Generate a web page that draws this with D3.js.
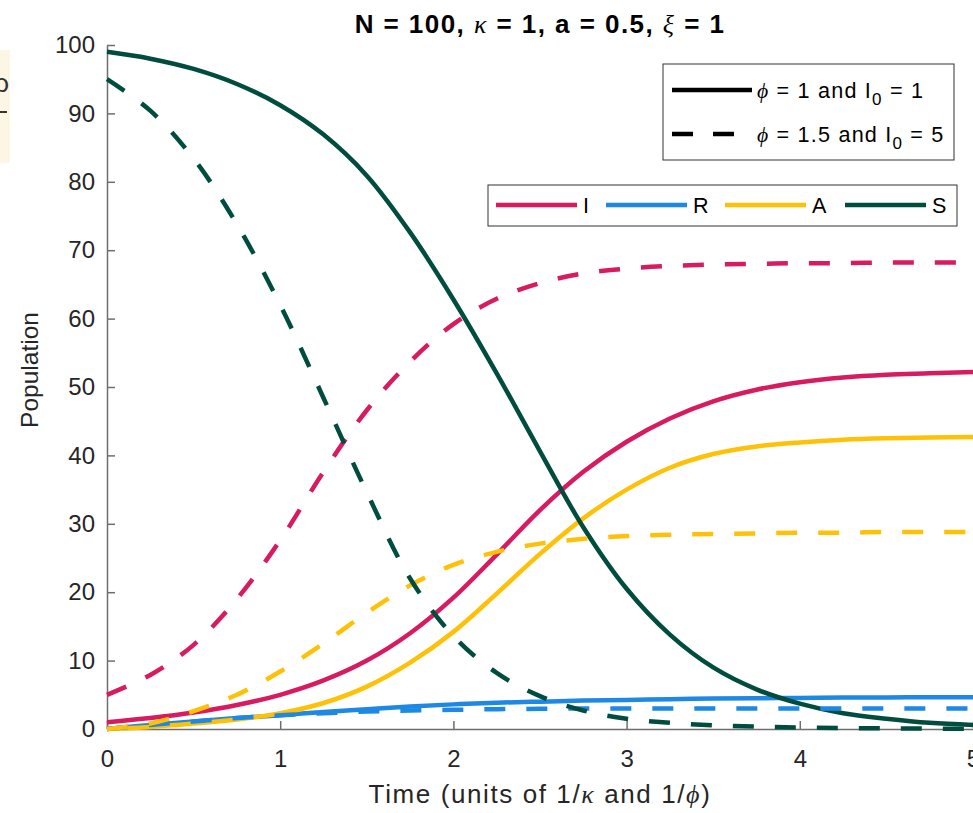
<!DOCTYPE html>
<html>
<head>
<meta charset="utf-8">
<script src="https://cdn.jsdelivr.net/npm/d3@7"></script>
<style>
body { margin: 0; background: #fff; }
svg { display: block; font-family: "Liberation Sans", Arial, sans-serif; }
</style>
</head>
<body>
<svg id="chart"></svg>
<script>
// time samples
var times = [0, 0.25, 0.5, 0.75, 1, 1.25, 1.5, 1.75, 2, 2.25, 2.5, 2.75, 3, 3.25, 3.5, 3.75, 4, 4.25, 4.5, 4.75, 5];

// phi = 1, I0 = 1 (solid)
var iSolid = [1.0, 1.6, 2.4, 3.5, 5.0, 7.1, 10.0, 14.0, 19.2, 25.5, 32.0, 37.6, 42.0, 45.4, 47.9, 49.6, 50.7, 51.4, 51.8, 52.0, 52.2];
var rSolid = [0, 0.6, 1.1, 1.6, 2.0, 2.5, 2.9, 3.3, 3.6, 3.85, 4.0, 4.15, 4.25, 4.35, 4.45, 4.5, 4.55, 4.6, 4.6, 4.65, 4.65];
var aSolid = [0, 0.3, 0.8, 1.4, 2.3, 3.8, 6.2, 9.7, 14.2, 19.8, 25.6, 30.8, 35.0, 38.2, 40.2, 41.3, 41.9, 42.3, 42.5, 42.6, 42.7];
var sSolid = [99.0, 98.0, 96.5, 94.3, 91.2, 86.9, 80.9, 72.6, 62.8, 52.0, 40.6, 29.5, 20.5, 13.8, 9.0, 5.8, 3.7, 2.3, 1.5, 0.9, 0.6];

// phi = 1.5, I0 = 5 (dashed)
var iDash = [5.0, 7.9, 12.3, 19.0, 27.6, 37.6, 46.6, 53.7, 59.2, 62.9, 65.2, 66.6, 67.3, 67.7, 67.9, 68.0, 68.1, 68.1, 68.2, 68.2, 68.2];
var rDash = [0, 0.6, 1.1, 1.6, 2.0, 2.3, 2.55, 2.7, 2.8, 2.9, 2.95, 3.0, 3.0, 3.0, 3.0, 3.0, 3.0, 3.0, 3.0, 3.0, 3.0];
var aDash = [0, 0.8, 2.6, 5.0, 8.4, 12.5, 17.0, 21.0, 24.0, 25.9, 27.1, 27.8, 28.2, 28.4, 28.5, 28.6, 28.7, 28.7, 28.8, 28.8, 28.8];
var sDash = [95.0, 90.4, 83.4, 73.8, 62.0, 48.4, 34.6, 22.0, 13.6, 8.2, 4.8, 2.7, 1.5, 0.9, 0.55, 0.35, 0.22, 0.14, 0.09, 0.06, 0.04];

var xTicks = [0, 1, 2, 3, 4, 5];
var yTicks = [0, 10, 20, 30, 40, 50, 60, 70, 80, 90, 100];

var compartments = ["I", "R", "A", "S"];
var colors = {I: "#D81B60", R: "#1E88E5", A: "#FFC107", S: "#004D40"};

var margin = {top: 45, right: 0, bottom: 84, left: 107},
    width = 973 - margin.left - margin.right,
    height = 813 - margin.top - margin.bottom;

var svg = d3.select("#chart")
    .attr("width", 973)
    .attr("height", 813);

// odd leftover box on the left edge of the picture
svg.append("rect")
    .attr("x", 0).attr("y", 50).attr("width", 10).attr("height", 113)
    .attr("fill", "#fdf6e4");
svg.append("text")
    .attr("x", 9).attr("y", 92)
    .attr("text-anchor", "end")
    .attr("font-size", 26)
    .attr("fill", "#333")
    .text("ρ");
svg.append("line")
    .attr("x1", 0).attr("x2", 7).attr("y1", 112).attr("y2", 112)
    .attr("stroke", "#333").attr("stroke-width", 2);

var g = svg.append("g")
    .attr("transform", "translate(" + margin.left + "," + margin.top + ")");

var x = d3.scaleLinear().domain([0, 5]).range([0, width]);
var y = d3.scaleLinear().domain([0, 100]).range([height, 0]);

// axes, MATLAB style ticks pointing in
var xAxis = g.append("g")
    .attr("transform", "translate(0," + height + ")")
    .call(d3.axisBottom(x).tickValues(xTicks).tickFormat(d3.format("d"))
        .tickSizeInner(-8).tickSizeOuter(0).tickPadding(21));

var yAxis = g.append("g")
    .call(d3.axisLeft(y).tickValues(yTicks).tickFormat(d3.format("d"))
        .tickSizeInner(-8).tickSizeOuter(0).tickPadding(12));

[xAxis, yAxis].forEach(function(ax) {
    ax.attr("font-family", null).attr("font-size", 24);
    ax.select(".domain").attr("stroke", "#6e6e6e").attr("stroke-width", 1.5);
    ax.selectAll(".tick line").attr("stroke", "#6e6e6e").attr("stroke-width", 1.5);
    ax.selectAll(".tick text").attr("fill", "#262626");
});

// curves: solid first, dashed on top
var series = [
    {key: "I", values: iSolid, dash: null},
    {key: "R", values: rSolid, dash: null},
    {key: "A", values: aSolid, dash: null},
    {key: "S", values: sSolid, dash: null},
    {key: "I", values: iDash, dash: "21,21"},
    {key: "R", values: rDash, dash: "21,21"},
    {key: "A", values: aDash, dash: "21,21"},
    {key: "S", values: sDash, dash: "21,21"}
];

var line = d3.line()
    .x(function(d, i) { return x(times[i]); })
    .y(function(d) { return y(d); })
    .curve(d3.curveCatmullRom.alpha(0.5));

g.selectAll(".curve")
    .data(series)
    .enter().append("path")
    .attr("class", "curve")
    .attr("fill", "none")
    .attr("stroke", function(d) { return colors[d.key]; })
    .attr("stroke-width", 4.5)
    .attr("stroke-dasharray", function(d) { return d.dash; })
    .attr("d", function(d) { return line(d.values); });

// title
var greek = "Liberation Serif, serif";
var title = svg.append("text")
    .attr("x", margin.left + width / 2)
    .attr("y", 33)
    .attr("text-anchor", "middle")
    .attr("font-size", 26)
    .attr("font-weight", "bold")
    .attr("letter-spacing", 1.45)
    .attr("fill", "#000");
title.append("tspan").text("N = 100, ");
title.append("tspan").attr("font-family", greek).attr("font-style", "italic").attr("font-weight", "normal").text("κ");
title.append("tspan").text(" = 1, a = 0.5, ");
title.append("tspan").attr("font-family", greek).attr("font-style", "italic").attr("font-weight", "normal").text("ξ");
title.append("tspan").text(" = 1");

// axis labels
var xLab = svg.append("text")
    .attr("x", margin.left + width / 2)
    .attr("y", 803)
    .attr("text-anchor", "middle")
    .attr("font-size", 26)
    .attr("letter-spacing", 1.6)
    .attr("fill", "#262626");
xLab.append("tspan").text("Time (units of 1/");
xLab.append("tspan").attr("font-family", greek).attr("font-style", "italic").text("κ");
xLab.append("tspan").text(" and 1/");
xLab.append("tspan").attr("font-family", greek).attr("font-style", "italic").text("ϕ");
xLab.append("tspan").text(")");

svg.append("text")
    .attr("transform", "translate(38,370) rotate(-90)")
    .attr("text-anchor", "middle")
    .attr("font-size", 24.5)
    .attr("fill", "#262626")
    .text("Population");

// legend: line styles
var styleLegend = svg.append("g");
styleLegend.append("rect")
    .attr("x", 663).attr("y", 64).attr("width", 291).attr("height", 96)
    .attr("fill", "#fff").attr("stroke", "#333").attr("stroke-width", 1);

var styleItems = [
    {phi: "1", i0: "1", dash: null, yy: 90},
    {phi: "1.5", i0: "5", dash: "21,20", yy: 134}
];

styleItems.forEach(function(d) {
    styleLegend.append("line")
        .attr("x1", 672).attr("x2", 752).attr("y1", d.yy).attr("y2", d.yy)
        .attr("stroke", "#000").attr("stroke-width", 4.5)
        .attr("stroke-dasharray", d.dash);
    var t = styleLegend.append("text")
        .attr("x", 757).attr("y", d.yy + 8)
        .attr("font-size", 21.6)
        .attr("letter-spacing", 1.2)
        .attr("fill", "#000");
    t.append("tspan").attr("font-family", greek).attr("font-style", "italic").text("ϕ");
    t.append("tspan").text(" = " + d.phi + " and I");
    t.append("tspan").attr("dy", 7).attr("font-size", 17).text("0");
    t.append("tspan").attr("dy", -7).text(" = " + d.i0);
});

// legend: compartments
var compLegend = svg.append("g");
compLegend.append("rect")
    .attr("x", 488).attr("y", 185).attr("width", 469).attr("height", 41)
    .attr("fill", "#fff").attr("stroke", "#333").attr("stroke-width", 1);

var compX = [496, 606, 725, 845];
compartments.forEach(function(k, i) {
    compLegend.append("line")
        .attr("x1", compX[i]).attr("x2", compX[i] + 81)
        .attr("y1", 205).attr("y2", 205)
        .attr("stroke", colors[k]).attr("stroke-width", 4.5);
    compLegend.append("text")
        .attr("x", compX[i] + 87).attr("y", 213)
        .attr("font-size", 21.6)
        .attr("fill", "#000")
        .text(k);
});
</script>
</body>
</html>
